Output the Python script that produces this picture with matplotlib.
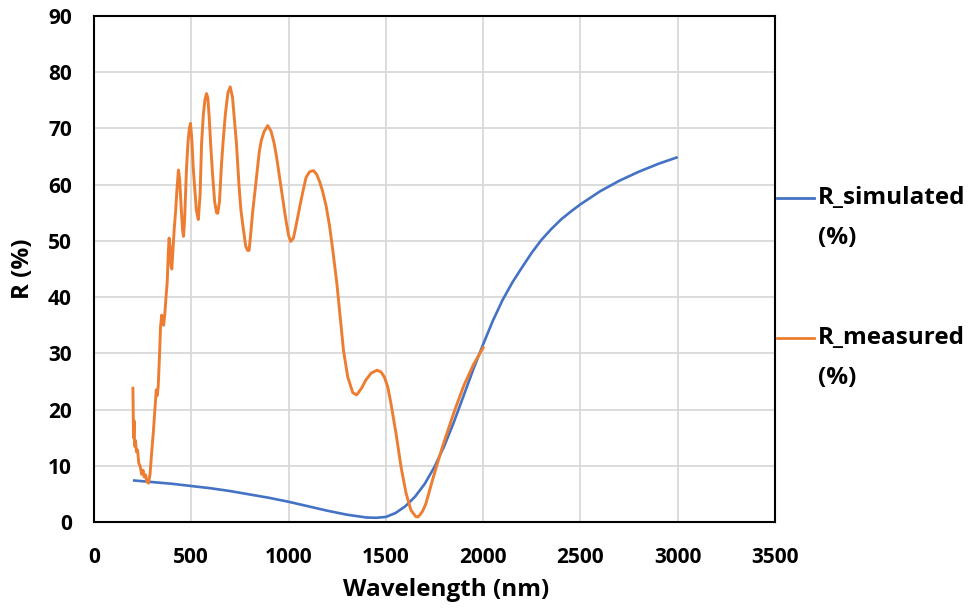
import matplotlib
matplotlib.use("Agg")
import matplotlib.pyplot as plt
from matplotlib.lines import Line2D

# ---- data ----
sim_wl = [200, 300, 400, 500, 600, 700, 800, 900, 1000, 1100, 1200, 1300, 1400, 1450,
          1500, 1550, 1600, 1650, 1700, 1750, 1800, 1850, 1900, 1950, 2000, 2050, 2100,
          2150, 2200, 2250, 2300, 2350, 2400, 2450, 2500, 2600, 2700, 2800, 2900, 3000]
sim_r = [7.4, 7.1, 6.8, 6.4, 6.0, 5.5, 4.9, 4.3, 3.6, 2.8, 2.0, 1.3, 0.8, 0.75,
         0.9, 1.6, 2.8, 4.5, 6.8, 9.8, 13.5, 17.8, 22.5, 27.2, 31.6, 35.8, 39.5,
         42.6, 45.3, 47.9, 50.2, 52.1, 53.8, 55.2, 56.5, 58.8, 60.7, 62.3, 63.7, 64.9]

meas_wl = [200, 203, 206, 209, 213, 218, 224, 230, 238, 245, 252, 258, 265, 272, 280,
           288, 296, 305, 313, 320, 325, 330, 336, 342, 348, 352, 358, 364, 370, 376,
           382, 386, 391, 396, 400, 405, 412, 420, 427, 434, 440, 448, 455, 460, 466,
           475, 483, 490, 496, 503, 510, 517, 526, 536, 545, 553, 562, 570, 578, 585,
           592, 600, 609, 620, 630, 636, 645, 655, 663, 675, 688, 700, 712, 722, 732,
           745, 755, 766, 780, 790, 797, 805, 815, 826, 840, 850, 860, 875, 893, 910,
           925, 938, 955, 970, 985, 1000, 1011, 1025, 1040, 1057, 1075, 1090, 1108,
           1128, 1145, 1160, 1175, 1193, 1210, 1227, 1248, 1265, 1282, 1304, 1330,
           1350, 1375, 1398, 1425, 1455, 1475, 1492, 1510, 1526, 1552, 1578, 1604,
           1629, 1654, 1665, 1675, 1690, 1706, 1740, 1791, 1850, 1900, 1950, 2000]
meas_r = [23.8, 15.0, 18.0, 13.5, 14.5, 12.5, 12.8, 10.5, 9.8, 8.5, 9.2, 8.0, 8.4, 7.2, 6.9,
          8.5, 12.2, 16.0, 19.9, 23.5, 22.5, 24.1, 29.0, 34.7, 36.8, 35.5, 35.0, 37.0, 40.0, 42.5,
          48.0, 50.5, 49.0, 45.5, 45.0, 48.0, 52.0, 55.5, 59.5, 62.6, 61.0, 56.0, 52.0, 50.8, 54.0,
          62.6, 67.5, 70.0, 70.9, 68.0, 63.0, 59.6, 55.5, 53.8, 58.0, 67.4, 72.5, 75.0, 76.2, 75.5,
          72.0, 67.0, 62.0, 57.0, 55.0, 54.9, 57.0, 63.5, 67.4, 72.5, 76.3, 77.4, 75.5, 71.5, 67.4,
          60.0, 55.5, 52.5, 49.0, 48.3, 48.3, 51.0, 55.0, 58.5, 63.0, 66.0, 67.9, 69.5, 70.5, 69.5,
          67.5, 65.0, 61.0, 57.5, 54.0, 51.0, 49.9, 50.5, 53.0, 56.0, 59.0, 61.3, 62.3,
          62.5, 61.8, 60.5, 58.8, 56.2, 52.8, 48.4, 42.5, 36.5, 30.6, 25.8, 23.0,
          22.6, 23.8, 25.3, 26.5, 27.0, 26.7, 25.8, 24.0, 21.1, 15.8, 9.8, 5.1,
          2.1, 0.95, 0.9, 1.25, 2.0, 3.3, 7.5, 13.4, 19.5, 24.2, 28.0, 31.0]

x_ticks = [0, 500, 1000, 1500, 2000, 2500, 3000, 3500]
y_ticks = [0, 10, 20, 30, 40, 50, 60, 70, 80, 90]

blue = "#4472C4"
orange = "#ED7D31"

plt.rcParams['font.family'] = ['Open Sans', 'DejaVu Sans']

fig = plt.figure(figsize=(9.73, 6.08), dpi=100)
ax = fig.add_axes([94/973, 1-522/608, (775-94)/973, (522-16)/608])

ax.plot(sim_wl, sim_r, color=blue, lw=1.9, solid_capstyle='butt', zorder=3)
ax.plot(meas_wl, meas_r, color=orange, lw=2.1, solid_joinstyle='round', zorder=4)

ax.set_xlim(0, 3500)
ax.set_ylim(0, 90)
ax.set_xticks(x_ticks)
ax.set_yticks(y_ticks)
ax.grid(True, color="#d9d9d9", lw=1.3, zorder=0)
ax.set_axisbelow(True)
for s in ['top', 'right', 'left', 'bottom']:
    ax.spines[s].set_color('black')
    ax.spines[s].set_linewidth(1.5)
ax.tick_params(length=0, labelsize=15, colors='black')
ax.tick_params(axis='x', pad=18)
ax.tick_params(axis='y', pad=16)
for lab in ax.get_xticklabels() + ax.get_yticklabels():
    lab.set_fontweight('bold')

ax.set_xlabel("Wavelength (nm)", fontsize=17.5, fontweight='bold')
ax.set_ylabel("R (%)", fontsize=17.5, fontweight='bold')
ax.xaxis.label.set_va('center')
ax.yaxis.label.set_va('center')
ax.xaxis.set_label_coords((446-94)/681, (522-590)/506)
ax.yaxis.set_label_coords((23-94)/681, 0.5)

# legend (manual, outside right)
for (y1, col, lab) in [(198, blue, "R_simulated"), (338, orange, "R_measured")]:
    yf = 1 - y1/608
    fig.add_artist(Line2D([777/973, 814/973], [yf, yf], color=col, lw=2.0,
                          transform=fig.transFigure))
    fig.text(818/973, yf, lab, fontsize=17.5, fontweight='bold', va='center', ha='left')
    fig.text(818/973, 1 - (y1+40)/608, "(%)", fontsize=17.5, fontweight='bold',
             va='center', ha='left')

fig.savefig("out.png", dpi=100)
